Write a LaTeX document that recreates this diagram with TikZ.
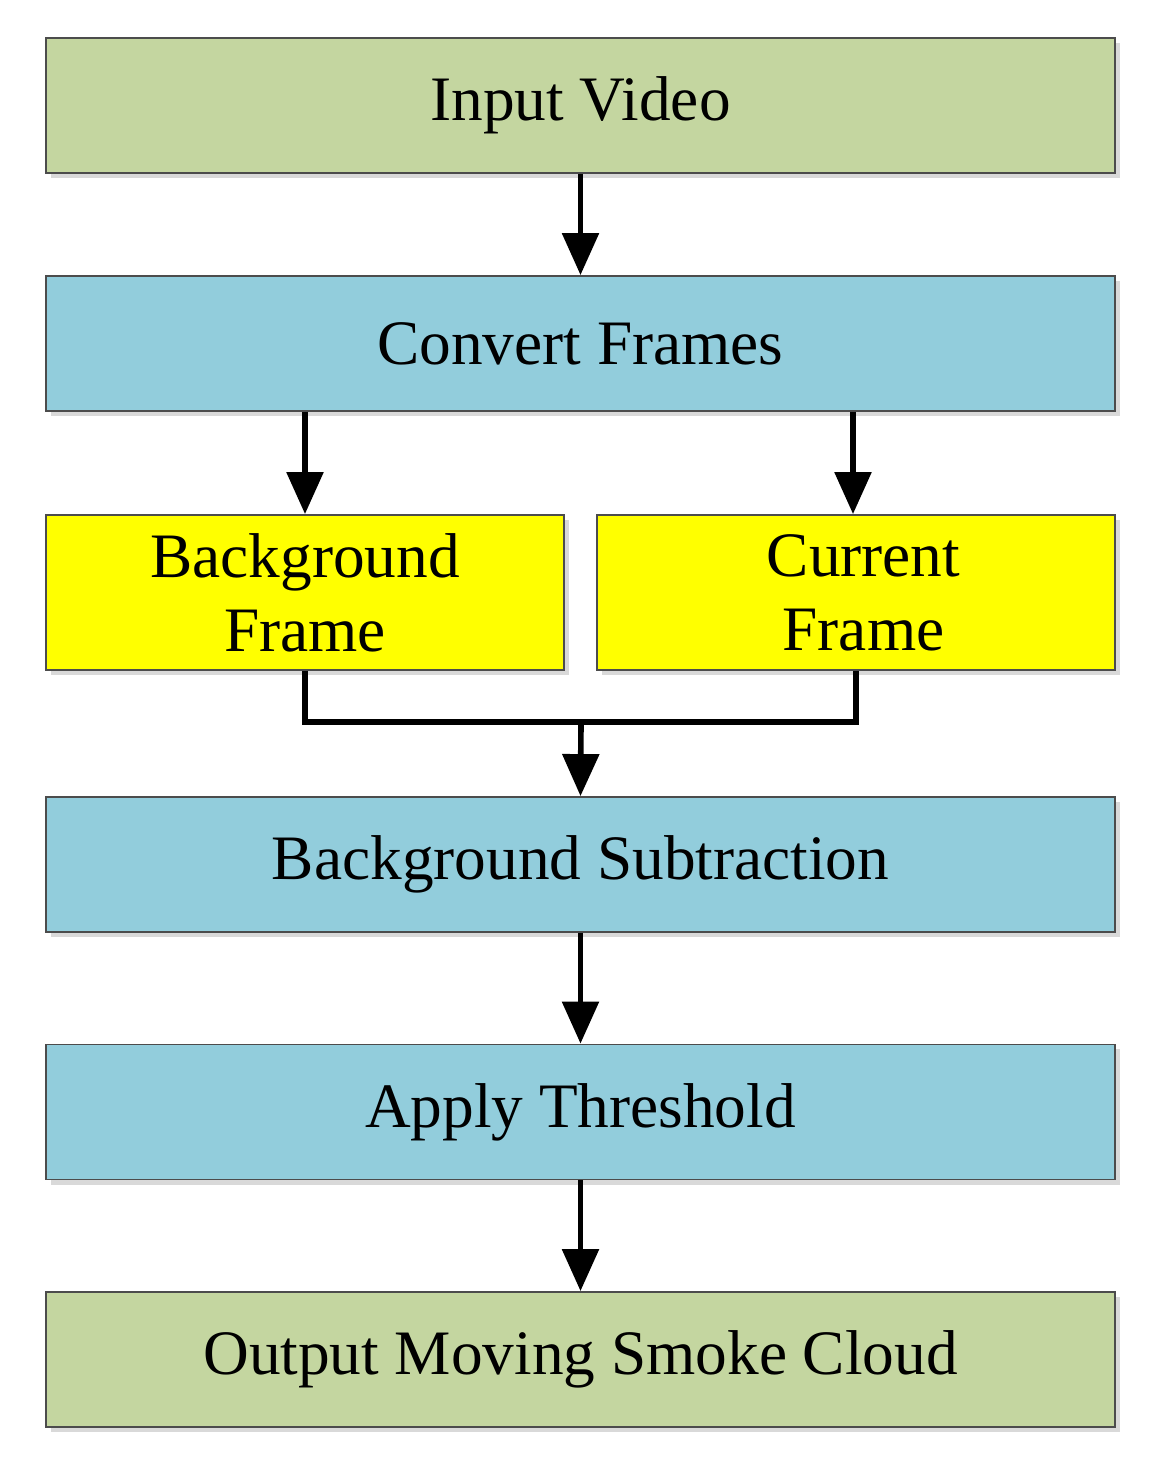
\documentclass[tikz,border=0pt]{standalone}
\usepackage{fontspec}
\setmainfont{Liberation Serif}
\usetikzlibrary{shadows,arrows.meta}
\definecolor{gr}{HTML}{C4D6A0}
\definecolor{bl}{HTML}{92CDDC}
\definecolor{ye}{HTML}{FFFF00}
\begin{document}
\begin{tikzpicture}[x=0.01cm,y=-0.01cm,
 box/.style={draw=black!70,line width=0.5pt,minimum height=1.35cm,font=\fontsize{18}{21}\selectfont,align=center,inner sep=0pt,
   general shadow={fill=black!25,shadow xshift=0.5mm,shadow yshift=-0.5mm,opacity=0.6}},
 wide/.style={box,minimum width=10.69cm},
 half/.style={box,minimum width=5.18cm,minimum height=1.55cm},
 arr/.style={line width=1.6pt,-{Triangle[length=0.42cm,width=0.36cm]}},
 ln/.style={line width=1.6pt}]
\useasboundingbox (0,0) rectangle (1161,1469);
\node[wide,fill=gr] (iv) at (580.5,105.5) {Input Video};
\node[wide,fill=bl] (cf) at (580.5,343.5) {Convert Frames};
\node[half,fill=ye] (bf) at (305,592.5) {Background\\Frame};
\node[half,fill=ye] (cu) at (856,592.5) {\hspace*{0.15cm}Current\\\hspace*{0.15cm}Frame};
\node[wide,fill=bl] (bs) at (580.5,864.5) {Background Subtraction};
\node[wide,fill=bl] (at) at (580.5,1112) {Apply Threshold};
\node[wide,fill=gr] (om) at (580.5,1359.5) {Output Moving Smoke Cloud};
\coordinate (m) at (581,722);
\draw[arr] (iv.south) -- (cf.north);
\draw[arr] (cf.south -| bf.north) -- (bf.north);
\draw[arr] ([xshift=-0.03cm]cf.south -| cu.north) -- ([xshift=-0.03cm]cu.north);
\draw[ln] (bf.south) |- (m) -| (cu.south);
\draw[arr] (m) -- (bs.north);
\draw[arr] (bs.south) -- (at.north);
\draw[arr] (at.south) -- (om.north);
\end{tikzpicture}
\end{document}
